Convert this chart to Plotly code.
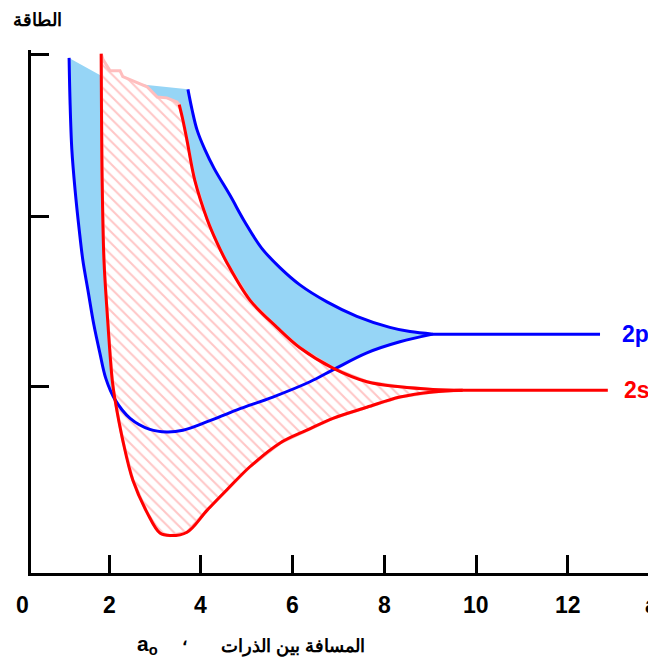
import plotly.graph_objects as go

# ---- data (x in units of a0, y in arbitrary energy units) ----
series_names = ["2p", "2s"]

# 2p lower branch (repulsive wall -> minimum -> asymptote)
p_low_x = [1.13, 1.15, 1.19, 1.26, 1.35, 1.43, 1.54, 1.67, 1.80, 1.93, 2.13, 2.46, 2.89,
           3.26, 3.61, 4.14, 4.79, 5.57, 6.38, 6.88, 7.62, 8.34, 9.06]
p_low_y = [38.6, 33.6, 27.8, 23.1, 18.4, 14.8, 11.3, 7.2, 3.9, 0.9, -1.6, -3.8, -5.1,
           -5.4, -5.2, -4.2, -2.8, -1.3, 0.5, 1.9, 3.9, 5.2, 6.1]
# 2p upper branch
p_up_x = [3.72, 3.81, 3.92, 4.09, 4.29, 4.64, 4.96, 5.33, 5.73, 6.16, 6.75, 7.40, 8.12, 8.56, 9.06]
p_up_y = [34.9, 32.5, 30.1, 27.8, 25.6, 22.4, 19.3, 16.2, 13.9, 11.9, 9.9, 8.2, 6.9, 6.4, 6.1]
# top edge of the 2p band (from upper branch back to lower branch)
p_top_x = [3.72, 2.83, 1.83, 1.13]
p_top_y = [34.9, 35.4, 36.5, 38.6]
# 2p separated-atom level
p_flat_x = [9.06, 12.70]
p_flat_y = [6.1, 6.1]

# 2s lower branch
s_low_x = [1.83, 1.85, 1.89, 1.96, 2.07, 2.13, 2.30, 2.52, 2.83, 3.11, 3.33, 3.70, 4.14,
           4.57, 5.07, 5.73, 6.31, 6.88, 7.62, 8.34, 9.06, 9.71]
s_low_y = [39.1, 24.2, 14.8, 8.6, 0.7, -1.6, -6.4, -11.1, -14.9, -17.3, -17.6, -17.2, -14.6,
           -12.2, -9.5, -6.7, -5.2, -3.8, -2.5, -1.3, -0.7, -0.5]
# 2s upper branch
s_up_x = [3.53, 3.61, 3.70, 3.87, 4.14, 4.35, 4.57, 5.07, 5.66, 6.16, 6.88, 7.62, 8.34, 9.06, 9.71]
s_up_y = [33.1, 31.3, 28.9, 24.2, 19.6, 16.9, 14.5, 10.1, 6.9, 4.5, 2.1, 0.5, -0.1, -0.4, -0.5]
# jagged top edge of the 2s band
s_top_x = [3.53, 3.48, 3.26, 3.05, 2.83, 2.57, 2.30, 2.24, 2.02, 1.87, 1.83]
s_top_y = [33.1, 33.4, 33.9, 34.0, 35.2, 35.8, 36.4, 37.1, 37.1, 38.4, 39.1]
# 2s separated-atom level
s_flat_x = [9.71, 12.87]
s_flat_y = [-0.5, -0.5]

x_tick_vals = [0, 2, 4, 6, 8, 10, 12]
x_tick_text = ["0", "2", "4", "6", "8", "10", "12"]
y_tick_vals = [0, 20, 39]

y_title = "الطاقة"
x_title = "المسافة بين الذرات"
x_unit = "a<sub>o</sub>"

BLUE = "rgb(0,0,255)"
RED = "rgb(255,0,0)"
FONT = "Arial"

fig = go.Figure()

# blue band fill
fig.add_trace(go.Scatter(
    x=p_low_x + p_up_x[::-1] + p_top_x[1:],
    y=p_low_y + p_up_y[::-1] + p_top_y[1:],
    mode="lines", fill="toself", fillcolor="rgb(150,213,246)",
    line=dict(width=0), hoverinfo="skip", showlegend=False))

# red hatched band fill
fig.add_trace(go.Scatter(
    x=s_low_x + s_up_x[::-1][1:] + s_top_x[1:],
    y=s_low_y + s_up_y[::-1][1:] + s_top_y[1:],
    mode="lines", fill="toself", fillcolor="white",
    fillpattern=dict(shape="\\", fgcolor="rgb(255,198,198)", bgcolor="white",
                     size=8, solidity=0.25, fillmode="replace"),
    line=dict(width=3, color="rgb(255,190,190)"), hoverinfo="skip", showlegend=False))

# curves (smooth branches) and flat asymptotic levels
for xs, ys, col in [(p_low_x, p_low_y, BLUE), (p_up_x, p_up_y, BLUE),
                    (s_low_x, s_low_y, RED), (s_up_x, s_up_y, RED)]:
    fig.add_trace(go.Scatter(x=xs, y=ys, mode="lines",
                             line=dict(color=col, width=3, shape="spline", smoothing=1.0),
                             hoverinfo="skip", showlegend=False))
for xs, ys, col in [(p_flat_x, p_flat_y, BLUE), (s_flat_x, s_flat_y, RED)]:
    fig.add_trace(go.Scatter(x=xs, y=ys, mode="lines", line=dict(color=col, width=3),
                             hoverinfo="skip", showlegend=False))

# series labels
fig.add_annotation(x=13.48, y=p_flat_y[-1], xref="x", yref="y", text=series_names[0],
                   xanchor="center", showarrow=False,
                   font=dict(family=FONT, size=23, color=BLUE, weight="bold"))
fig.add_annotation(x=13.50, y=s_flat_y[-1], xref="x", yref="y", text=series_names[1],
                   xanchor="center", showarrow=False,
                   font=dict(family=FONT, size=23, color=RED, weight="bold"))

# x tick labels (0 lies left of the axis line, so it is placed in paper coordinates)
tick_font = dict(family=FONT, size=23, color="black", weight="bold")
for v, t in zip(x_tick_vals, x_tick_text):
    if v < 0.3:
        fig.add_annotation(x=-0.0144, y=-0.061, xref="paper", yref="paper", text=t,
                           xanchor="center", yanchor="middle", showarrow=False, font=tick_font)
    else:
        fig.add_annotation(x=v, y=-0.061, xref="x", yref="paper", text=t,
                           xanchor="center", yanchor="middle", showarrow=False, font=tick_font)
fig.add_annotation(x=13.63, y=-0.061, xref="x", yref="paper", text="a", xanchor="left",
                   yanchor="middle", showarrow=False, font=tick_font)

# axis titles
fig.add_annotation(x=0.0096, y=1.057, xref="paper", yref="paper", text=y_title,
                   xanchor="center", yanchor="middle", showarrow=False,
                   font=dict(family=FONT, size=18, color="black", weight="bold"))
fig.add_annotation(x=0.419, y=-0.14, xref="paper", yref="paper", text=x_title,
                   xanchor="center", yanchor="middle", showarrow=False,
                   font=dict(family=FONT, size=18, color="black", weight="bold"))
fig.add_annotation(x=0.245, y=-0.128, xref="paper", yref="paper", text="،",
                   xanchor="center", yanchor="middle", showarrow=False,
                   font=dict(family=FONT, size=17, color="black", weight="bold"))
fig.add_annotation(x=0.186, y=-0.138, xref="paper", yref="paper", text=x_unit,
                   xanchor="center", yanchor="middle", showarrow=False,
                   font=dict(family=FONT, size=21, color="black", weight="bold"))

fig.update_xaxes(range=[0.30, 13.92], showline=True, linewidth=3, linecolor="black",
                 ticks="inside", ticklen=18, tickwidth=3, tickcolor="black",
                 tickvals=x_tick_vals, showticklabels=False, showgrid=False, zeroline=False)
fig.update_yaxes(range=[-22.0, 39.53], showline=True, linewidth=3, linecolor="black",
                 ticks="inside", ticklen=18, tickwidth=3, tickcolor="black",
                 tickvals=y_tick_vals, showticklabels=False, showgrid=False, zeroline=False)

# page body has an 8px margin, so the figure is sized/offset to compensate
fig.update_layout(width=648, height=651, margin=dict(l=23, r=0, t=42, b=86),
                  plot_bgcolor="white", paper_bgcolor="white", showlegend=False)

fig.write_html("out.html")
